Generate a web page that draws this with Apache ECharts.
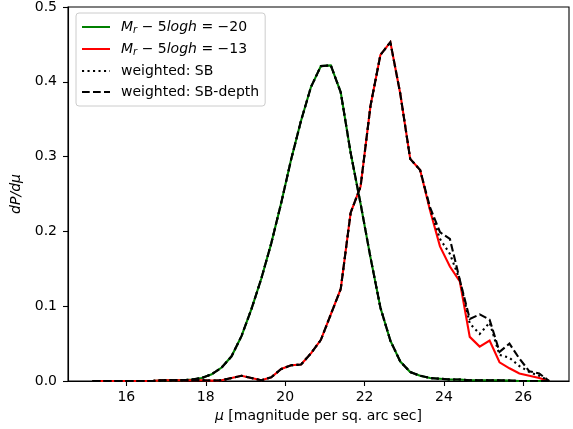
<!DOCTYPE html>
<html><head><meta charset="utf-8">
<script src="https://cdn.jsdelivr.net/npm/echarts@6/dist/echarts.min.js"></script>
<style>html,body{margin:0;padding:0;background:#fff}#c{width:573px;height:429px}</style>
</head><body><div id="c"></div>
<script>
// bin centres (mu, magnitude per sq. arc sec)
const mu = [15.15, 15.40, 15.65, 15.90, 16.15, 16.40, 16.65, 16.90, 17.15, 17.40,
            17.65, 17.90, 18.15, 18.40, 18.65, 18.90, 19.15, 19.40, 19.65, 19.90,
            20.15, 20.40, 20.65, 20.90, 21.15, 21.40, 21.65, 21.90, 22.15, 22.40,
            22.65, 22.90, 23.15, 23.40, 23.65, 23.90, 24.15, 24.40, 24.65, 24.90,
            25.15, 25.40, 25.65, 25.90, 26.15, 26.40, 26.65];
// M_r - 5logh = -20 (green)
const brightMr20 = [0, 0, 0, 0, 0, 0, 0, 0.0005, 0.001, 0.001,
                    0.002, 0.004, 0.009, 0.018, 0.033, 0.060, 0.096, 0.137, 0.184, 0.238,
                    0.296, 0.348, 0.393, 0.421, 0.422, 0.386, 0.305, 0.237, 0.165, 0.098,
                    0.054, 0.026, 0.012, 0.007, 0.004, 0.003, 0.002, 0.002, 0.001, 0.001,
                    0.001, 0.001, 0.0005, 0, 0, 0, 0];
// M_r - 5logh = -13 (red)
const faintMr13 = [0, 0, 0, 0, 0, 0, 0, 0.001, 0.001, 0.001,
                   0.001, 0.001, 0.0005, 0.001, 0.004, 0.007, 0.004, 0.001, 0.005, 0.016,
                   0.021, 0.022, 0.037, 0.055, 0.089, 0.123, 0.225, 0.260, 0.368, 0.436,
                   0.453, 0.384, 0.297, 0.282, 0.228, 0.180, 0.153, 0.133, 0.059, 0.046,
                   0.054, 0.025, 0.017, 0.010, 0.007, 0.004, 0];
// weighted: SB, for the faint sample
const faintSB = [0, 0, 0, 0, 0, 0, 0, 0.001, 0.001, 0.001,
                 0.001, 0.001, 0.0005, 0.001, 0.004, 0.007, 0.004, 0.001, 0.005, 0.016,
                 0.021, 0.022, 0.037, 0.055, 0.089, 0.123, 0.225, 0.260, 0.368, 0.436,
                 0.453, 0.384, 0.297, 0.282, 0.230, 0.190, 0.170, 0.135, 0.077, 0.063,
                 0.078, 0.035, 0.031, 0.020, 0.012, 0.007, 0];
// weighted: SB-depth, for the faint sample
const faintSBdepth = [0, 0, 0, 0, 0, 0, 0, 0.001, 0.001, 0.001,
                      0.001, 0.001, 0.0005, 0.001, 0.004, 0.007, 0.004, 0.001, 0.005, 0.016,
                      0.021, 0.022, 0.037, 0.055, 0.089, 0.123, 0.225, 0.260, 0.368, 0.436,
                      0.453, 0.384, 0.297, 0.282, 0.232, 0.199, 0.190, 0.135, 0.083, 0.089,
                      0.082, 0.039, 0.050, 0.030, 0.013, 0.010, 0];
// weighted versions of the bright sample coincide with it
const brightSB = brightMr20;
const brightSBdepth = brightMr20;
const xTicks = [16, 18, 20, 22, 24, 26];

const nameG = 'Mr-5logh=-20';
const nameR = 'Mr-5logh=-13';
const nameSB = 'weighted: SB';
const nameSBD = 'weighted: SB-depth';
const FONT = 'DejaVu Sans';

function pairs(ys) { return mu.map((x, i) => [x, ys[i]]); }
function line(name, ys, color, type) {
  return {
    type: 'line', name: name, data: pairs(ys), symbol: 'none', silent: true,
    lineStyle: { color: color, width: 2.1, type: type, cap: 'butt', join: 'miter' },
    itemStyle: { color: color }, animation: false
  };
}
const DASH = [7.7, 3.3];
const DOT = [2.1, 3.4];

const chart = echarts.init(document.getElementById('c'), null, { renderer: 'canvas' });
chart.setOption({
  backgroundColor: '#fff',
  animation: false,
  textStyle: { fontFamily: FONT },
  grid: { left: 68, right: 4, top: 6, bottom: 48, show: true, borderColor: '#000', borderWidth: 1.1, containLabel: false },
  legend: {
    orient: 'vertical', left: 76, top: 13,
    itemWidth: 28, itemHeight: 14, itemGap: 7,
    padding: [7, 6, 7, 5],
    borderColor: '#cccccc', borderWidth: 1, borderRadius: 3,
    backgroundColor: 'rgba(255,255,255,0.8)',
    itemStyle: { color: 'rgba(0,0,0,0)', borderWidth: 0, opacity: 0 },
    data: [nameG, nameR, nameSB, nameSBD],
    textStyle: {
      fontFamily: FONT, fontSize: 14, color: '#000', padding: [0, 0, 0, 6],
      rich: {
        i: { fontFamily: FONT, fontStyle: 'italic', fontSize: 14, color: '#000' },
        s: { fontFamily: FONT, fontStyle: 'italic', fontSize: 10, color: '#000', verticalAlign: 'bottom', padding: [6, 0, 0, 0] },
        n: { fontFamily: FONT, fontSize: 14, color: '#000' }
      }
    },
    formatter: function (n) {
      if (n === nameG) return '{i|M}{s|r}{n| − 5}{i|logh}{n| = −20}';
      if (n === nameR) return '{i|M}{s|r}{n| − 5}{i|logh}{n| = −13}';
      return n;
    }
  },
  xAxis: {
    type: 'value', min: 14.53, max: 27.15,
    name: '{i|μ} [magnitude per sq. arc sec]', nameLocation: 'middle', nameGap: 27,
    nameTextStyle: { fontFamily: FONT, fontSize: 14, color: '#000',
      rich: { i: { fontFamily: FONT, fontStyle: 'italic', fontSize: 14, color: '#000' } } },
    axisLine: { show: true, lineStyle: { color: '#000', width: 1.1 } },
    axisTick: { show: true, length: 5, customValues: xTicks, lineStyle: { color: '#000', width: 1.1 } },
    axisLabel: { customValues: xTicks, fontFamily: FONT, fontSize: 14, color: '#000', margin: 9 },
    splitLine: { show: false }
  },
  yAxis: {
    type: 'value', min: 0, max: 0.5, interval: 0.1,
    name: 'dP/dμ', nameLocation: 'middle', nameGap: 38, nameRotate: 90,
    nameTextStyle: { fontFamily: FONT, fontSize: 14, fontStyle: 'italic', color: '#000' },
    axisLine: { show: true, lineStyle: { color: '#000', width: 1.1 } },
    axisTick: { show: true, length: 5, lineStyle: { color: '#000', width: 1.1 } },
    axisLabel: { fontFamily: FONT, fontSize: 14, color: '#000', margin: 11,
      formatter: v => v.toFixed(1) },
    splitLine: { show: false }
  },
  series: [
    line(nameG, brightMr20, '#008000', 'solid'),
    line(nameR, faintMr13, '#ff0000', 'solid'),
    line(nameSB, brightSB, '#000', DOT),
    line(nameSB, faintSB, '#000', DOT),
    line(nameSBD, brightSBdepth, '#000', DASH),
    line(nameSBD, faintSBdepth, '#000', DASH)
  ]
});
</script></body></html>
